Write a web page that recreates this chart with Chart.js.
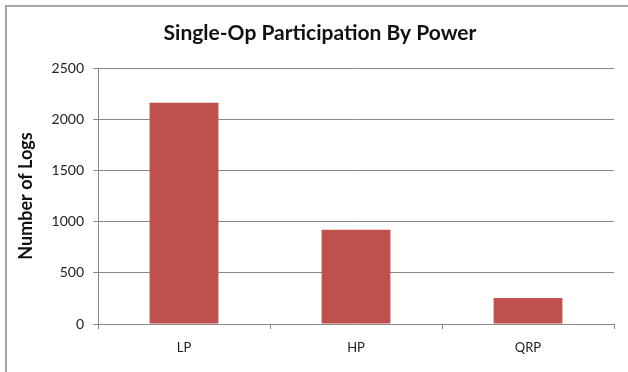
<!DOCTYPE html>
<html>
<head>
<meta charset="utf-8">
<script src="https://cdn.jsdelivr.net/npm/chart.js@4"></script>
<style>
  html, body { margin: 0; padding: 0; background: #fff; }
  #wrap { position: relative; width: 628px; height: 372px; }
  #frame { position: absolute; left: 5px; top: 5px; right: 0; bottom: 0;
           border-left: 2px solid #a6a6a6; border-top: 2px solid #a6a6a6; pointer-events: none; }
  canvas { position: absolute; left: 0; top: 0; }
</style>
</head>
<body>
<div id="wrap">
  <canvas id="c" width="628" height="372"></canvas>
  <div id="frame"></div>
</div>
<script>
// Single-op log counts by power class
const categories = ['LP', 'HP', 'QRP'];
const logCounts = [2160, 920, 255];
const yTicks = [0, 500, 1000, 1500, 2000, 2500];

const gridColor = '#8a8a8a';
const fontFamily = 'Lato, "Open Sans", sans-serif';

new Chart(document.getElementById('c'), {
  type: 'bar',
  data: {
    labels: categories,
    datasets: [{
      data: logCounts,
      backgroundColor: '#c0504d',
      borderWidth: 0,
      barPercentage: 0.4,
      categoryPercentage: 1.0
    }]
  },
  options: {
    responsive: false,
    animation: false,
    devicePixelRatio: 1,
    layout: { padding: { left: 12, right: 0, top: 0, bottom: 0 } },
    plugins: {
      legend: { display: false },
      tooltip: { enabled: false },
      title: {
        display: true,
        text: 'Single-Op Participation By Power',
        color: '#111',
        font: { family: fontFamily, size: 21, weight: 'bold', lineHeight: 1.2 },
        padding: { top: 20.4, bottom: 22.4 }
      }
    },
    scales: {
      x: {
        grid: {
          display: true,
          drawOnChartArea: false,
          drawTicks: true,
          tickLength: 5,
          color: gridColor,
          offset: true
        },
        border: { display: true, color: gridColor, width: 1 },
        ticks: {
          color: '#222',
          font: { family: fontFamily, size: 13 },
          padding: 11
        },
        afterFit: s => { s.height = 48; }
      },
      y: {
        min: 0,
        max: 2500,
        afterBuildTicks: s => { s.ticks = yTicks.map(v => ({ value: v })); },
        grid: {
          color: gridColor,
          tickLength: 5,
          drawTicks: true
        },
        border: { display: true, color: gridColor, width: 1 },
        ticks: {
          color: '#222',
          font: { family: fontFamily, size: 14 },
          padding: 9,
          callback: v => String(v)
        },
        title: {
          display: true,
          text: 'Number of Logs',
          color: '#111',
          font: { family: fontFamily, size: 18, weight: 'bold', lineHeight: 1.2 },
          padding: { top: 3, bottom: 0 }
        },
        afterFit: s => { s.width = 86; }
      },
      // empty right-hand gutter between plot and frame edge
      gutter: {
        type: 'linear',
        position: 'right',
        display: true,
        grid: { display: false },
        border: { display: false },
        ticks: { display: false },
        afterFit: s => { s.width = 14; }
      }
    }
  }
});
</script>
</body>
</html>
